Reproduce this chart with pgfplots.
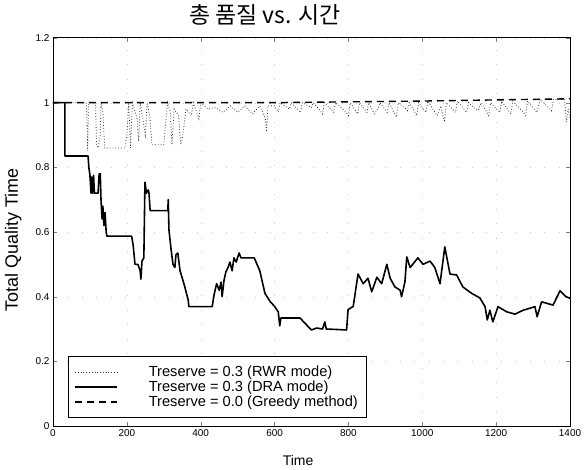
\documentclass[border=0pt]{standalone}
\usepackage{fontspec}
\setmainfont{Liberation Sans}
\newfontfamily\krfont{Noto Sans CJK KR}
\usepackage{pgfplots}
\pgfplotsset{compat=1.18}

% Treserve = 0.3, DRA mode
\pgfplotstableread{
x y
0 1.0
32 1.0
32 0.835
95 0.835
97 0.80
100 0.776
103 0.72
105 0.77
107 0.72
110 0.775
112 0.72
122 0.72
125 0.78
128 0.78
130 0.70
133 0.64
135 0.68
138 0.62
141 0.66
144 0.60
146 0.587
213 0.587
217 0.56
222 0.50
230 0.50
236 0.48
238 0.454
241 0.51
246 0.52
249 0.754
253 0.72
258 0.73
260 0.72
263 0.666
311 0.666
312 0.70
314 0.606
320 0.544
325 0.50
330 0.49
333 0.53
338 0.535
344 0.48
352 0.45
357 0.43
366 0.39
368 0.369
431 0.369
436 0.405
443 0.44
450 0.42
455 0.445
458 0.40
463 0.45
468 0.476
474 0.49
479 0.507
485 0.48
490 0.52
496 0.507
504 0.535
509 0.52
545 0.52
560 0.48
574 0.41
588 0.385
600 0.37
610 0.353
614 0.31
617 0.334
669 0.334
682 0.318
700 0.297
714 0.303
730 0.30
736 0.322
740 0.30
795 0.297
799 0.36
813 0.37
826 0.47
840 0.44
853 0.457
863 0.415
877 0.46
890 0.44
904 0.50
913 0.457
926 0.43
940 0.42
944 0.40
953 0.446
958 0.523
967 0.49
988 0.52
1002 0.50
1021 0.51
1034 0.49
1048 0.44
1061 0.554
1075 0.47
1093 0.467
1110 0.43
1134 0.41
1156 0.396
1170 0.369
1176 0.328
1183 0.358
1191 0.322
1205 0.369
1229 0.353
1251 0.346
1273 0.358
1305 0.369
1311 0.338
1323 0.384
1354 0.374
1373 0.418
1389 0.40
1400 0.395
}\dra

% Treserve = 0.3, RWR mode
\pgfplotstableread{
x y
0 1.0
90 1.0
92 0.95
94 0.85
96 1.0
115 1.0
118 0.87
122 0.86
128 0.90
130 1.0
135 0.97
140 0.86
195 0.86
200 0.90
205 1.0
210 0.86
215 1.0
228 0.95
232 0.88
236 1.0
250 0.90
255 1.0
262 0.96
268 0.87
300 0.87
306 0.95
310 1.0
318 0.97
322 0.87
328 0.98
340 0.96
346 0.87
350 0.89
355 0.93
360 0.98
375 0.96
380 1.0
395 0.95
400 1.0
420 0.98
440 0.985
460 0.97
480 0.99
500 0.97
520 0.99
540 0.965
560 0.99
575 0.95
578 0.91
582 0.99
600 0.99
610 0.97
615 1.0
640 0.98
645 1.0
670 0.97
675 1.0
700 0.985
705 1.0
720 0.98
730 0.965
735 1.0
760 0.97
765 1.0
790 0.975
800 0.96
805 1.0
825 0.965
830 1.0
850 0.97
855 1.0
870 0.965
880 0.98
885 1.0
905 0.97
910 1.0
930 0.955
935 1.0
960 0.975
965 1.0
985 0.96
990 1.0
1010 0.97
1015 1.005
1040 0.96
1050 0.99
1060 0.94
1065 1.0
1090 0.97
1095 1.005
1120 0.97
1125 1.0
1150 0.975
1160 1.0
1180 0.96
1185 1.0
1210 0.97
1215 1.005
1240 0.965
1245 1.005
1270 0.975
1280 0.96
1285 1.005
1310 0.97
1320 1.01
1350 0.975
1355 1.01
1385 1.01
1390 0.94
1395 0.98
1400 0.95
}\rwr

\begin{document}
\begin{tikzpicture}
\useasboundingbox (-53bp,-44bp) rectangle (531bp,426bp);
\begin{axis}[
name=ax, at={(0,0)}, anchor=south west,
scale only axis, width=517bp, height=388bp,
xmin=0, xmax=1400, ymin=0, ymax=1.2,
xtick={0,200,400,600,800,1000,1200,1400},
ytick={0,0.2,0.4,0.6,0.8,1,1.2},
/pgf/number format/1000 sep={},
/pgf/number format/assume math mode=true,
tick label style={font=\fontsize{10}{10}\selectfont},
tick align=inside, major tick length=4bp,
axis line style={line width=1pt},
grid=major,
grid style={gray!45, line width=0.3pt, dash pattern=on 0.5pt off 14pt},
title={\krfont 총 품질 vs. 시간},
title style={at={(axis description cs:0.41,1.0435)}, anchor=center, font=\fontsize{23}{23}\selectfont},
xlabel={Time},
xlabel style={at={(axis description cs:0.474,-0.088)}, anchor=center, font=\fontsize{14}{14}\selectfont},
ylabel={Total Quality Time},
ylabel style={at={(axis description cs:-0.077,0.479)}, anchor=center, font=\fontsize{18}{18}\selectfont},
legend cell align=left,
legend image code/.code={\draw[#1] (0bp,0bp) -- (42bp,0bp);},
legend style={at={(axis description cs:0.029,0.021)}, anchor=south west,
  font=\fontsize{14.7}{15}\selectfont, draw=black,
  inner xsep=6bp, inner ysep=7.5bp, row sep=-1bp,
  /tikz/every odd column/.append style={column sep=29bp}},
]
\addplot[black!80, line width=0.8pt, dotted] table[x=x,y=y] {\rwr};
\addlegendentry{Treserve = 0.3 (RWR mode)}
\addplot[black, line width=1.6pt, line join=round] table[x=x,y=y] {\dra};
\addlegendentry{Treserve = 0.3 (DRA mode)}
\addplot[black, line width=1.4pt, dash pattern=on 7bp off 5bp] coordinates {(0,1.0) (600,1.0) (1000,1.005) (1400,1.012)};
\addlegendentry{Treserve = 0.0 (Greedy method)}
\end{axis}
\end{tikzpicture}
\end{document}
